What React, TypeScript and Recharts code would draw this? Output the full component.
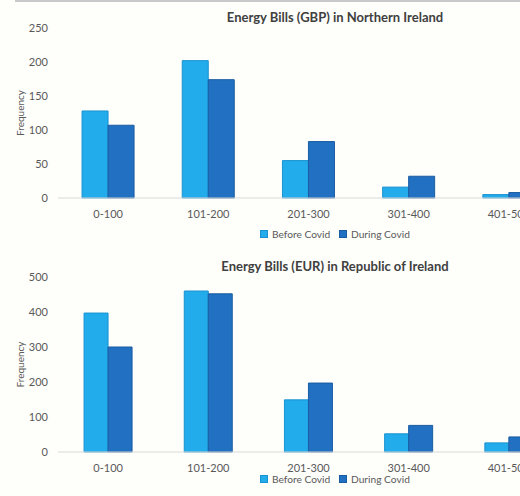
import React from 'react';
import { BarChart, Bar, XAxis, YAxis } from 'recharts';

// Bill bands (shared by both charts)
const categories = ['0-100', '101-200', '201-300', '301-400', '401-500'];

// Northern Ireland, GBP
const niBefore = [128, 202, 55, 16, 5];
const niDuring = [107, 174, 83, 32, 8];
const niTicks = [0, 50, 100, 150, 200, 250];

// Republic of Ireland, EUR
const roiBefore = [397, 460, 149, 52, 26];
const roiDuring = [300, 452, 197, 76, 43];
const roiTicks = [0, 100, 200, 300, 400, 500];

const seriesNames = ['Before Covid', 'During Covid'];

const LIGHT = '#22ACEC';
const LIGHT_EDGE = '#1A92D0';
const DARK = '#2170C1';
const DARK_EDGE = '#1A5CA2';
const TEXT = '#595959';
const FONT = 'Lato, "Open Sans", sans-serif';

const niData = categories.map((c, i) => ({ band: c, before: niBefore[i], during: niDuring[i] }));
const roiData = categories.map((c, i) => ({ band: c, before: roiBefore[i], during: roiDuring[i] }));

type PanelProps = {
  top: number;
  title: string;
  data: { band: string; before: number; during: number }[];
  ticks: number[];
  marginTop: number;
  marginBottom: number;
  gap: string;
  titleY: number;
  legendY: number;
};

function LegendRow({ y }: { y: number }) {
  const item = (color: string, edge: string, label: string, left: number) => (
    <div
      style={{
        position: 'absolute',
        left,
        top: y - 7,
        height: 14,
        display: 'flex',
        alignItems: 'center',
        whiteSpace: 'nowrap',
      }}
    >
      <span
        style={{
          display: 'inline-block',
          width: 6,
          height: 6,
          background: color,
          border: `1px solid ${edge}`,
          marginRight: 4,
        }}
      />
      <span style={{ fontFamily: FONT, fontSize: 10.2, color: TEXT }}>{label}</span>
    </div>
  );
  return (
    <>
      {item(LIGHT, LIGHT_EDGE, seriesNames[0], 260)}
      {item(DARK, DARK_EDGE, seriesNames[1], 339)}
    </>
  );
}

function Panel(p: PanelProps) {
  return (
    <div style={{ position: 'absolute', left: 0, top: p.top, width: 600, height: 248 }}>
      <BarChart
        width={600}
        height={248}
        data={p.data}
        margin={{ top: p.marginTop, right: 41, bottom: p.marginBottom, left: 0 }}
        barCategoryGap={p.gap}
        barGap={0}
      >
        <XAxis
          dataKey="band"
          stroke="#D9D9D9"
          tickLine={false}
          tickMargin={6}
          height={30}
          tick={{ fill: TEXT, fontSize: 11, fontFamily: FONT }}
        />
        <YAxis
          width={58}
          domain={[p.ticks[0], p.ticks[p.ticks.length - 1]]}
          ticks={p.ticks}
          axisLine={false}
          tickLine={false}
          tickSize={0}
          tickMargin={10}
          tick={{ fill: TEXT, fontSize: 11, fontFamily: FONT }}
          label={{
            value: 'Frequency',
            angle: -90,
            position: 'center',
            dx: -9,
            style: { fill: TEXT, fontSize: 10, fontFamily: FONT },
          }}
        />
        <Bar
          dataKey="before"
          name={seriesNames[0]}
          fill={LIGHT}
          stroke={LIGHT_EDGE}
          strokeWidth={1}
          isAnimationActive={false}
        />
        <Bar
          dataKey="during"
          name={seriesNames[1]}
          fill={DARK}
          stroke={DARK_EDGE}
          strokeWidth={1}
          isAnimationActive={false}
        />
      </BarChart>
      <div
        style={{
          position: 'absolute',
          left: 335,
          top: p.titleY,
          transform: 'translate(-50%, -50%)',
          whiteSpace: 'nowrap',
          fontFamily: FONT,
          fontWeight: 700,
          fontSize: 13,
          color: '#404040',
        }}
      >
        {p.title}
      </div>
      <LegendRow y={p.legendY} />
    </div>
  );
}

export default function App() {
  return (
    <div
      style={{
        position: 'absolute',
        left: 0,
        top: 0,
        width: 520,
        height: 496,
        overflow: 'hidden',
        background: '#FEFEFB',
      }}
    >
      <div
        style={{
          position: 'absolute',
          left: 15,
          top: 0,
          width: 505,
          height: 2,
          background: '#C9C9C9',
          zIndex: 2,
        }}
      />
      <Panel
        top={0}
        title="Energy Bills (GBP) in Northern Ireland"
        data={niData}
        ticks={niTicks}
        marginTop={28}
        marginBottom={20}
        gap="24%"
        titleY={17}
        legendY={234}
      />
      <Panel
        top={248}
        title="Energy Bills (EUR) in Republic of Ireland"
        data={roiData}
        ticks={roiTicks}
        marginTop={29}
        marginBottom={14}
        gap="26%"
        titleY={18}
        legendY={230.5}
      />
    </div>
  );
}
